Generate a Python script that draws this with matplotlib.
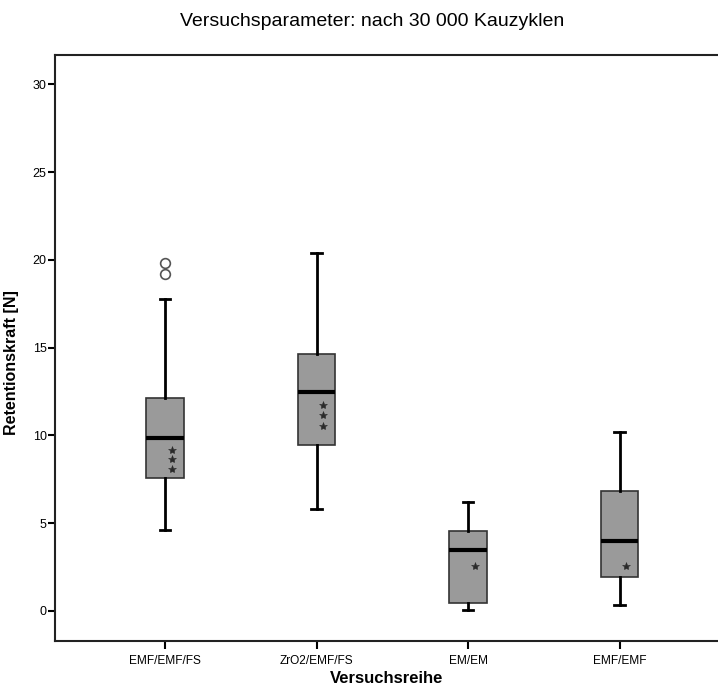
import matplotlib
matplotlib.use("Agg")
import matplotlib.pyplot as plt

plt.rcParams['font.family'] = ['Liberation Sans', 'DejaVu Sans']

categories = ["EMF/EMF/FS", "ZrO2/EMF/FS", "EM/EM", "EMF/EMF"]
whisker_low = [4.6, 5.8, 0.05, 0.35]
q1 = [7.6, 9.45, 0.45, 1.95]
median = [9.85, 12.5, 3.5, 4.0]
q3 = [12.15, 14.65, 4.55, 6.85]
whisker_high = [17.8, 20.4, 6.2, 10.2]
outliers = [[19.2, 19.8], [], [], []]
star_values = [[9.2, 8.65, 8.1], [11.75, 11.15, 10.55], [2.55], [2.55]]

title = "Versuchsparameter: nach 30 000 Kauzyklen"
xlabel = "Versuchsreihe"
ylabel = "Retentionskraft [N]"
yticks = [0, 5, 10, 15, 20, 25, 30]

fig = plt.figure(figsize=(7.18, 6.88), dpi=100)
ax = fig.add_axes([55/718, 47/688, 1 - 55/718, 586/688])

stats = []
for i, c in enumerate(categories):
    stats.append(dict(label=c, whislo=whisker_low[i], q1=q1[i], med=median[i],
                      q3=q3[i], whishi=whisker_high[i], fliers=outliers[i]))

positions = list(range(len(categories)))
ax.bxp(stats, positions=positions, widths=0.25, patch_artist=True,
       showfliers=True, capwidths=0.07,
       boxprops=dict(facecolor="#9a9a9a", edgecolor="#333333", linewidth=1.2),
       medianprops=dict(color="black", linewidth=3),
       whiskerprops=dict(color="black", linewidth=2),
       capprops=dict(color="black", linewidth=2),
       flierprops=dict(marker="o", markerfacecolor="white", markeredgecolor="#555555",
                       markersize=7, markeredgewidth=1.2, linestyle="none"))

for i, vals in enumerate(star_values):
    ax.plot([positions[i] + 0.045] * len(vals), vals, linestyle="none",
            marker="*", markersize=6, color="#2a2a2a", markeredgewidth=0.4)

ax.set_xlim(-0.726, 3.65)
ax.set_ylim(-1.71, 31.68)
ax.set_yticks(yticks)
ax.set_xticks(positions)
ax.set_xticklabels(categories, fontsize=8.6)
ax.tick_params(axis="y", labelsize=9, length=5, width=1.5, direction="out", pad=1)
ax.tick_params(axis="x", length=6, width=1.5, direction="out", pad=4)
for s in ["left", "top", "bottom"]:
    ax.spines[s].set_linewidth(1.5)
    ax.spines[s].set_color("#222222")
ax.spines["right"].set_visible(False)

ax.set_xlabel(xlabel, fontsize=12, fontweight="bold", labelpad=3)
ax.set_ylabel(ylabel, fontsize=11.5, fontweight="bold")
ax.yaxis.set_label_coords(-0.055, 0.475)
fig.text(372/718, 1 - 21/688, title, ha="center", va="center", fontsize=14)

fig.savefig("out.png", dpi=100)
